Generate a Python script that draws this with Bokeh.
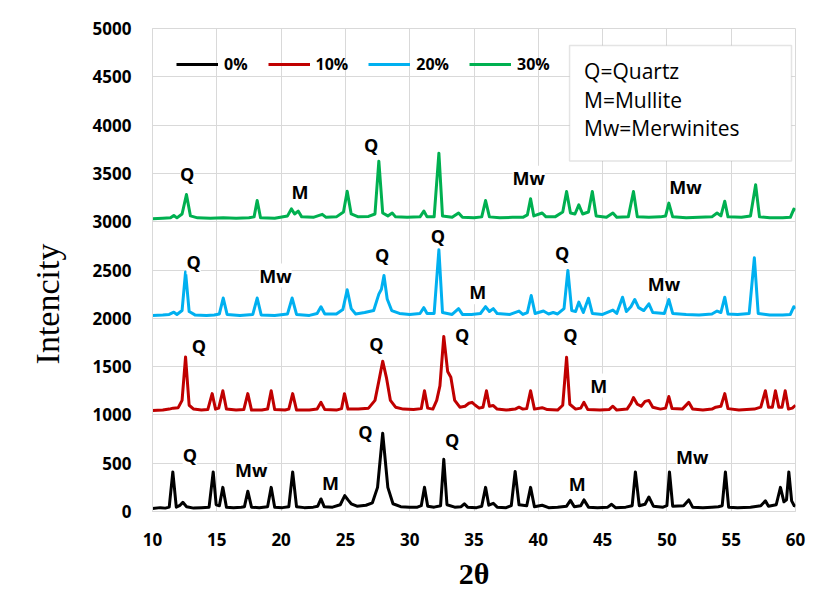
from bokeh.plotting import figure
from bokeh.models import (Range1d, SingleIntervalTicker, Legend, LegendItem,
                          BoxAnnotation, Label, LabelSet, ColumnDataSource)
from bokeh.core.properties import value
from bokeh.embed import file_html
from bokeh.resources import INLINE

# ---------------- data ----------------
series_names = ["0%", "10%", "20%", "30%"]
series_colors = ["#000000", "#c00000", "#00b0f0", "#00b050"]

two_theta_0 = [10.0, 10.6, 11.0, 11.3, 11.58, 11.85, 12.1, 12.36, 12.65, 13.2, 13.8, 14.4, 14.72, 14.95,
               15.2, 15.47, 15.75, 16.3, 16.9, 17.15, 17.41, 17.7, 18.3, 18.95, 19.23, 19.5, 20.1, 20.6,
               20.9, 21.2, 21.8, 22.5, 22.85, 23.1, 23.35, 24.0, 24.6, 24.95, 25.2, 25.45, 25.9, 26.6,
               27.1, 27.5, 27.9, 28.3, 28.7, 29.3, 30.0, 30.6, 30.9, 31.15, 31.4, 31.9, 32.4, 32.65,
               32.9, 33.5, 34.0, 34.25, 34.5, 35.2, 35.6, 35.9, 36.15, 36.5, 36.8, 37.5, 37.9, 38.2,
               38.5, 39.1, 39.4, 39.7, 40.3, 40.8, 41.5, 42.2, 42.5, 42.8, 43.3, 43.55, 43.9, 44.6,
               45.4, 45.7, 46.0, 46.8, 47.3, 47.55, 47.85, 48.3, 48.6, 48.95, 49.7, 50.0, 50.2, 50.45,
               51.3, 51.7, 52.0, 52.8, 53.5, 54.0, 54.3, 54.55, 54.8, 55.5, 56.5, 57.3, 57.66, 57.9,
               58.5, 58.83, 59.1, 59.3, 59.48, 59.7, 59.9, 60.0]
intensity_0 = [30, 40, 35, 45, 410, 45, 60, 95, 50, 35, 40, 45, 410, 70,
               60, 250, 45, 40, 45, 50, 210, 45, 40, 50, 250, 45, 40, 50,
               410, 50, 40, 45, 55, 130, 50, 45, 70, 165, 120, 80, 55, 65,
               90, 250, 810, 250, 80, 50, 45, 45, 60, 250, 55, 45, 60, 540,
               70, 45, 50, 80, 45, 40, 55, 250, 65, 85, 45, 40, 60, 415,
               70, 60, 250, 50, 65, 40, 45, 55, 115, 50, 60, 120, 45, 40,
               45, 75, 40, 45, 60, 410, 60, 75, 150, 55, 45, 60, 410, 55,
               60, 120, 45, 40, 45, 50, 60, 410, 45, 40, 45, 60, 110, 55,
               70, 250, 100, 120, 410, 110, 60, 55]

two_theta_10 = [10.0, 10.8, 11.3, 11.6, 12.0, 12.3, 12.57, 12.85, 13.2, 13.8, 14.3, 14.64, 14.9, 15.15,
                15.47, 15.75, 16.5, 17.1, 17.41, 17.7, 18.5, 18.95, 19.23, 19.5, 20.3, 20.6, 20.9, 21.2,
                22.2, 22.8, 23.1, 23.4, 24.3, 24.7, 24.93, 25.2, 26.0, 26.8, 27.3, 27.6, 27.9, 28.2,
                28.5, 28.9, 29.5, 30.3, 30.9, 31.15, 31.4, 31.8, 32.1, 32.35, 32.65, 32.95, 33.2, 33.5,
                33.9, 34.3, 34.6, 34.85, 35.1, 35.4, 35.7, 35.97, 36.2, 36.5, 36.8, 37.5, 38.2, 38.5,
                38.8, 39.1, 39.4, 39.7, 40.3, 40.7, 41.5, 41.9, 42.2, 42.45, 42.9, 43.3, 43.55, 43.85,
                44.8, 45.5, 45.8, 46.1, 46.9, 47.2, 47.4, 47.7, 48.0, 48.3, 48.6, 48.9, 49.5, 49.9,
                50.15, 50.4, 51.2, 51.7, 52.0, 52.8, 53.5, 53.8, 54.2, 54.5, 54.75, 55.6, 56.8, 57.3,
                57.66, 57.9, 58.2, 58.44, 58.7, 58.95, 59.2, 59.45, 59.75, 60.0]
intensity_10 = [1045, 1050, 1060, 1070, 1075, 1150, 1600, 1100, 1060, 1050, 1055, 1220, 1060, 1070,
                1250, 1060, 1050, 1055, 1220, 1050, 1050, 1060, 1250, 1055, 1050, 1060, 1220, 1050,
                1050, 1060, 1130, 1055, 1050, 1065, 1220, 1060, 1060, 1070, 1150, 1350, 1556, 1380,
                1150, 1080, 1060, 1055, 1065, 1250, 1070, 1060, 1150, 1300, 1812, 1450, 1390, 1150,
                1080, 1090, 1120, 1130, 1100, 1070, 1080, 1250, 1090, 1097, 1060, 1050, 1060, 1080,
                1060, 1065, 1250, 1060, 1075, 1055, 1050, 1100, 1597, 1110, 1060, 1070, 1130, 1055,
                1050, 1055, 1090, 1050, 1060, 1120, 1180, 1110, 1090, 1140, 1150, 1080, 1060, 1070,
                1190, 1065, 1060, 1130, 1060, 1050, 1060, 1080, 1090, 1220, 1065, 1050, 1060, 1080,
                1250, 1080, 1080, 1250, 1080, 1080, 1250, 1060, 1070, 1100]

two_theta_20 = [10.0, 10.8, 11.3, 11.66, 11.9, 12.3, 12.57, 12.85, 13.3, 14.2, 14.8, 15.2, 15.5, 15.8,
                16.8, 17.8, 18.14, 18.45, 19.5, 20.5, 20.86, 21.2, 22.2, 22.8, 23.1, 23.4, 24.3, 24.8,
                25.14, 25.45, 25.8, 26.5, 27.2, 27.6, 27.8, 28.0, 28.25, 28.6, 29.2, 30.0, 30.8, 31.1,
                31.35, 31.9, 32.27, 32.55, 33.3, 33.8, 34.1, 34.8, 35.5, 35.9, 36.2, 36.5, 36.8, 37.8,
                38.5, 38.8, 39.15, 39.45, 39.75, 40.4, 40.8, 41.16, 41.5, 42.0, 42.3, 42.6, 42.9, 43.15,
                43.5, 43.9, 44.2, 45.0, 45.8, 46.1, 46.55, 46.85, 47.2, 47.5, 47.8, 48.2, 48.6, 48.9,
                49.8, 50.15, 50.45, 51.5, 52.5, 53.5, 53.9, 54.2, 54.5, 54.75, 55.5, 56.4, 56.8, 57.1,
                58.0, 59.0, 59.6, 59.87, 60.0]
intensity_20 = [2030, 2035, 2040, 2063, 2040, 2080, 2480, 2070, 2035, 2030, 2035, 2045, 2210, 2040,
                2030, 2040, 2210, 2035, 2030, 2045, 2210, 2040, 2030, 2050, 2120, 2045, 2045, 2090,
                2295, 2100, 2045, 2060, 2080, 2250, 2300, 2443, 2200, 2080, 2050, 2040, 2050, 2110,
                2050, 2050, 2709, 2060, 2040, 2100, 2040, 2040, 2050, 2120, 2070, 2100, 2050, 2040,
                2075, 2040, 2060, 2236, 2050, 2075, 2045, 2060, 2045, 2100, 2495, 2080, 2070, 2167,
                2060, 2208, 2050, 2040, 2085, 2050, 2218, 2070, 2120, 2195, 2110, 2080, 2150, 2060,
                2050, 2195, 2050, 2040, 2035, 2045, 2075, 2060, 2218, 2045, 2040, 2050, 2626, 2050,
                2035, 2035, 2040, 2120, 2100]

two_theta_30 = [10.0, 10.8, 11.4, 11.66, 11.9, 12.3, 12.64, 12.95, 13.5, 14.5, 15.5, 16.5, 17.5, 17.9,
                18.14, 18.4, 19.5, 20.5, 20.8, 21.05, 21.33, 21.6, 22.5, 23.2, 23.5, 24.3, 24.85, 25.14,
                25.45, 26.0, 26.8, 27.3, 27.6, 27.9, 28.3, 28.64, 28.9, 29.8, 30.8, 31.1, 31.35, 31.9,
                32.27, 32.55, 33.3, 33.8, 34.1, 35.0, 35.6, 35.9, 36.2, 37.0, 38.0, 38.8, 39.15, 39.4,
                39.65, 40.3, 40.6, 41.3, 41.9, 42.2, 42.5, 42.85, 43.15, 43.45, 43.9, 44.2, 44.5, 45.3,
                45.8, 46.1, 47.0, 47.4, 47.7, 48.6, 49.5, 49.9, 50.15, 50.45, 51.5, 52.5, 53.5, 53.9,
                54.2, 54.5, 54.75, 55.8, 56.5, 56.9, 57.2, 58.0, 59.0, 59.6, 59.87, 60.0]
intensity_30 = [3030, 3035, 3040, 3064, 3040, 3080, 3281, 3060, 3040, 3035, 3040, 3035, 3040, 3050,
                3219, 3040, 3035, 3060, 3133, 3080, 3110, 3050, 3045, 3076, 3045, 3050, 3100, 3316,
                3080, 3050, 3055, 3080, 3626, 3090, 3060, 3090, 3050, 3045, 3050, 3110, 3050, 3050,
                3709, 3060, 3045, 3090, 3045, 3040, 3050, 3219, 3050, 3040, 3045, 3045, 3070, 3237,
                3060, 3090, 3050, 3050, 3100, 3312, 3090, 3080, 3175, 3080, 3100, 3312, 3060, 3045,
                3090, 3045, 3050, 3312, 3050, 3045, 3050, 3060, 3192, 3050, 3040, 3045, 3050, 3090,
                3060, 3212, 3050, 3045, 3060, 3382, 3050, 3040, 3040, 3045, 3130, 3120]

# phase labels over the patterns
phase_text = ["Q", "Mw", "M", "Q", "Q", "M", "Mw",
              "Q", "Q", "Q", "Q", "M",
              "Q", "Mw", "Q", "Q", "M", "Q", "Mw",
              "Q", "M", "Q", "Mw", "Mw"]
phase_x = [12.9, 17.67, 23.84, 26.56, 33.3, 43.02, 51.97,
           13.6, 27.42, 34.08, 42.5, 44.7,
           13.2, 19.56, 27.86, 32.19, 35.3, 41.86, 49.77,
           12.7, 21.46, 27.0, 39.26, 51.45]
phase_y = [580, 432, 293, 821, 735, 287, 569,
           1718, 1729, 1822, 1822, 1304,
           2581, 2443, 2660, 2857, 2270, 2674, 2350,
           3496, 3306, 3799, 3454, 3357]

key_lines = ["Q=Quartz", "M=Mullite", "Mw=Merwinites"]

x_start, x_end, x_step = 10, 60, 5
y_start, y_end, y_step = 0, 5000, 500

# ---------------- figure ----------------
p = figure(width=832, height=612, output_backend="svg", toolbar_location=None,
           x_range=Range1d(x_start, x_end), y_range=Range1d(y_start, y_end),
           min_border_left=152, min_border_right=37, min_border_top=28, min_border_bottom=101,
           background_fill_color="white", border_fill_color="white")
p.outline_line_color = "#d9d9d9"
p.styles = {"outline": "1px solid #d9d9d9", "outline-offset": "-5px"}

p.xaxis.ticker = SingleIntervalTicker(interval=x_step)
p.yaxis.ticker = SingleIntervalTicker(interval=y_step)
p.xgrid.ticker = SingleIntervalTicker(interval=x_step)
p.ygrid.ticker = SingleIntervalTicker(interval=y_step)
for g in (p.xgrid, p.ygrid):
    g.grid_line_color = "#d9d9d9"
    g.grid_line_width = 1

for ax in (p.xaxis, p.yaxis):
    ax.axis_line_color = "#d9d9d9"
    ax.major_tick_line_color = None
    ax.minor_tick_line_color = None
    ax.major_tick_out = 0
    ax.major_label_text_font = "Open Sans"
    ax.major_label_text_font_style = "bold"
    ax.major_label_text_font_size = "17px"
    ax.major_label_text_color = "#000000"

p.xaxis.major_label_standoff = 17
p.yaxis.major_label_standoff = 17

p.xaxis.axis_label = "2θ"
p.xaxis.axis_label_text_font = "Liberation Serif"
p.xaxis.axis_label_text_font_style = "bold"
p.xaxis.axis_label_text_font_size = "30px"
p.xaxis.axis_label_text_color = "#000000"
p.xaxis.axis_label_standoff = 8

# trailing no-break spaces push the title's visible part lower, as in the reference
p.yaxis.axis_label = "Intencity" + "\u00a0" * 8
p.yaxis.axis_label_text_font = "Liberation Serif"
p.yaxis.axis_label_text_font_style = "normal"
p.yaxis.axis_label_text_font_size = "34px"
p.yaxis.axis_label_text_color = "#000000"
p.yaxis.axis_label_standoff = 24

xs_all = [two_theta_0, two_theta_10, two_theta_20, two_theta_30]
ys_all = [intensity_0, intensity_10, intensity_20, intensity_30]
renderers = []
for xs, ys, col in zip(xs_all, ys_all, series_colors):
    r = p.line(xs, ys, line_color=col, line_width=3, line_join="round")
    renderers.append(r)

legend = Legend(items=[LegendItem(label=n, renderers=[r]) for n, r in zip(series_names, renderers)],
                orientation="horizontal", location=(24, 436))
legend.background_fill_alpha = 0
legend.border_line_color = None
legend.padding = 0
legend.margin = 0
legend.spacing = 20
legend.glyph_width = 42
legend.label_standoff = 6
legend.label_text_font = "Open Sans"
legend.label_text_font_style = "bold"
legend.label_text_font_size = "16px"
legend.label_text_color = "#000000"
p.add_layout(legend, "center")

# phase labels
src = ColumnDataSource(dict(x=phase_x, y=phase_y, t=phase_text))
labels = LabelSet(x="x", y="y", text="t", source=src, text_align="center", text_baseline="middle",
                  text_font=value("Open Sans"), text_font_style="bold", text_font_size="18px",
                  text_color="#000000", background_fill_color="white")
p.add_layout(labels)

# key box
box = BoxAnnotation(left=42.43, right=59.69, bottom=3628, top=4824,
                    fill_color="white", fill_alpha=1.0, line_color="#a6a6a6", line_width=1.5)
p.add_layout(box)
key_y = [4558, 4262, 3969]
for txt, yy in zip(key_lines, key_y):
    p.add_layout(Label(x=43.56, y=yy, text=txt, text_align="left", text_baseline="middle",
                       text_font="Open Sans", text_font_size="21px", text_color="#000000"))

open("out.html", "w").write(file_html(p, INLINE))
